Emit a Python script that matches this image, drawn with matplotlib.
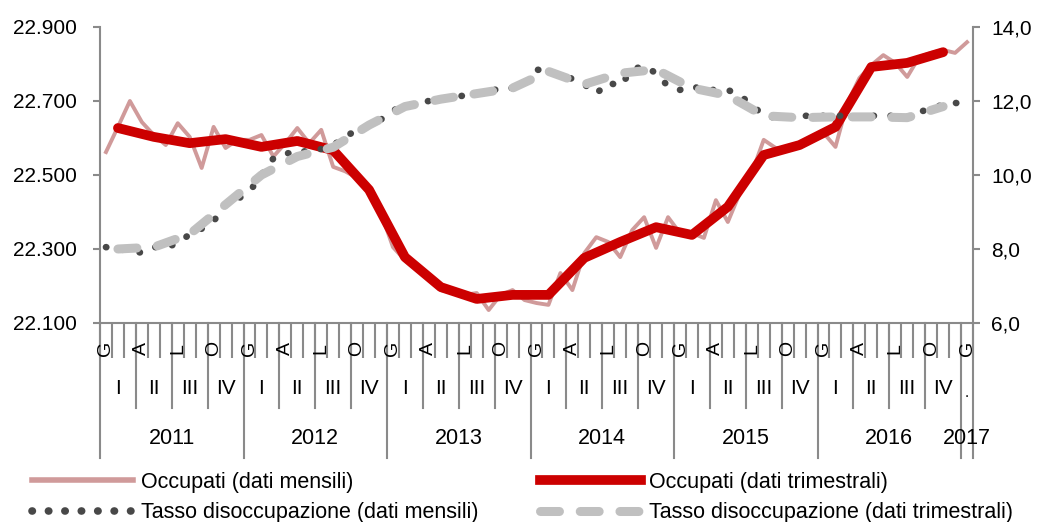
import numpy as np
import matplotlib
matplotlib.use('Agg')
import matplotlib.pyplot as plt
from matplotlib.lines import Line2D
from matplotlib.ticker import FixedLocator, FuncFormatter

plt.rcParams['font.family'] = ['Liberation Sans', 'DejaVu Sans']

# Occupati (migliaia), dati mensili gen 2011 - gen 2017
occupati_mensili = [
    22562, 22630, 22700, 22643, 22608, 22581, 22640, 22603, 22519, 22630, 22573, 22595,
    22595, 22608, 22550, 22586, 22627, 22586, 22622, 22522, 22510, 22492, 22460, 22397,
    22305, 22270, 22243, 22222, 22189, 22181, 22176, 22181, 22135, 22176, 22189, 22162,
    22154, 22149, 22235, 22189, 22289, 22332, 22319, 22278, 22351, 22386, 22303, 22386,
    22343, 22343, 22330, 22432, 22373, 22451, 22505, 22595, 22573, 22573, 22581, 22595,
    22614, 22576, 22695, 22762, 22797, 22824, 22803, 22765, 22819, 22830, 22838, 22830,
    22859,
]
# Occupati, dati trimestrali (I 2011 - IV 2016)
occupati_trimestrali = [
    22627, 22603, 22586, 22597,
    22576, 22592, 22567, 22460,
    22278, 22197, 22165, 22176,
    22176, 22276, 22319, 22359,
    22338, 22414, 22554, 22581,
    22630, 22792, 22803, 22832,
]
# Tasso di disoccupazione, dati mensili
disoccupazione_mensili = [
    8.05, 8.0, 7.95, 7.9, 8.05, 8.05, 8.15, 8.4, 8.55, 8.75, 9.2, 9.35,
    9.55, 10.0, 10.45, 10.6, 10.55, 10.7, 10.7, 10.8, 11.05, 11.2, 11.35, 11.5,
    11.75, 11.85, 11.95, 12.0, 12.05, 12.1, 12.15, 12.2, 12.25, 12.35, 12.35, 12.45,
    12.85, 12.8, 12.7, 12.6, 12.45, 12.2, 12.5, 12.4, 12.85, 12.95, 12.75, 12.4,
    12.3, 12.4, 12.3, 12.3, 12.3, 12.15, 11.9, 11.6, 11.55, 11.55, 11.6, 11.6,
    11.6, 11.6, 11.6, 11.55, 11.6, 11.6, 11.6, 11.55, 11.7, 11.8, 11.9, 11.95,
    11.9,
]
# Tasso di disoccupazione, dati trimestrali
disoccupazione_trimestrali = [
    8.0, 8.05, 8.4, 9.2,
    10.0, 10.5, 10.75, 11.35,
    11.85, 12.05, 12.2, 12.35,
    12.8, 12.45, 12.75, 12.85,
    12.35, 12.15, 11.6, 11.55,
    11.57, 11.57, 11.55, 11.85,
]

anni = ['2011', '2012', '2013', '2014', '2015', '2016', '2017']
trimestri = ['I', 'II', 'III', 'IV']
mesi = ['G', '', '', 'A', '', '', 'L', '', '', 'O', '', '']

PINK = '#D09A9A'
RED = '#CC0000'
LGRAY = '#C0C0C0'
DGRAY = '#484848'
AXIS = '#8A8A8A'
FS = 15

n = len(occupati_mensili)
xm = np.arange(n)
xq = np.arange(len(occupati_trimestrali)) * 3 + 1

fig = plt.figure(figsize=(10.4, 5.22), dpi=100)
ax = fig.add_axes([100 / 1040, 1 - 323 / 522, 873 / 1040, 296 / 522])
ax2 = ax.twinx()

ax.plot(xm, occupati_mensili, color=PINK, lw=2.8, zorder=2)
ax.plot(xq, occupati_trimestrali, color=RED, lw=7, solid_joinstyle='round',
        solid_capstyle='round', zorder=3)

ax2.plot(xm, disoccupazione_mensili, color=DGRAY, lw=4.8, dashes=(0.05, 2.5),
         dash_capstyle='round', zorder=2)
ax2.plot(xq, disoccupazione_trimestrali, color=LGRAY, lw=6.5, dashes=(2.1, 2.3),
         dash_capstyle='round', zorder=3)

ax.set_xlim(-0.5, n - 0.5)
ax.set_ylim(22100, 22900)
ax2.set_ylim(6, 14)
ax.yaxis.set_major_locator(FixedLocator(np.arange(22100, 22901, 200)))
ax2.yaxis.set_major_locator(FixedLocator(np.arange(6, 14.1, 2)))
ax.yaxis.set_major_formatter(FuncFormatter(lambda v, p: f'{v:,.0f}'.replace(',', '.')))
ax2.yaxis.set_major_formatter(FuncFormatter(lambda v, p: f'{v:.1f}'.replace('.', ',')))

for a in (ax, ax2):
    a.spines['top'].set_visible(False)
    for s in a.spines.values():
        s.set_color(AXIS)
        s.set_linewidth(1.5)
ax.spines['right'].set_visible(False)
ax2.spines['left'].set_visible(False)
ax2.spines['bottom'].set_visible(False)

ax.tick_params(axis='y', length=5, width=1.5, color=AXIS, labelsize=FS, pad=12)
ax2.tick_params(axis='y', length=5, width=1.5, color=AXIS, labelsize=FS, pad=8)

# month separators
ax.set_xticks(np.arange(-0.5, n, 1.0))
ax.set_xticklabels([])
ax.tick_params(axis='x', length=25, width=1.5, color=AXIS)

tr = ax.get_xaxis_transform()
for i in range(n):
    lab = mesi[i % 12]
    if lab:
        ax.text(i, -0.085, lab, transform=tr, rotation=90, ha='center', va='center',
                fontsize=FS - 1)

# quarter separators and labels
for q in range(n // 3):
    if q % 4:
        b = q * 3 - 0.5
        ax.plot([b, b], [0, -0.287], transform=tr, color=AXIS, lw=1.5, clip_on=False)
    ax.text(q * 3 + 1, -0.22, trimestri[q % 4], transform=tr, ha='center', va='center',
            fontsize=FS)
ax.text(n - 1, -0.235, '.', transform=tr, ha='center', va='center', fontsize=FS - 4)

# year separators and labels
for k, anno in enumerate(anni):
    start = k * 12 - 0.5
    end = min(start + 12, n - 0.5)
    ax.plot([start, start], [0, -0.456], transform=tr, color=AXIS, lw=1.5, clip_on=False)
    ax.text((start + end) / 2, -0.389, anno, transform=tr, ha='center', va='center',
            fontsize=FS + 0.5)
ax.plot([n - 0.5, n - 0.5], [0, -0.456], transform=tr, color=AXIS, lw=1.5, clip_on=False)

# legends
h_om = Line2D([], [], color=PINK, lw=4)
h_dm = Line2D([], [], color=DGRAY, lw=5.5, dashes=(0.05, 2.1), dash_capstyle='round')
h_ot = Line2D([], [], color=RED, lw=7)
h_dt = Line2D([], [], color=LGRAY, lw=6.5, dashes=(2.1, 2.3), dash_capstyle='round')

kw = dict(frameon=False, fontsize=FS + 0.5, handlelength=4.7, handletextpad=0.35,
          labelspacing=0.42, borderpad=0, borderaxespad=0, loc='upper left')
leg1 = fig.legend([h_om, h_dm], ['Occupati (dati mensili)',
                                 'Tasso disoccupazione (dati mensili)'],
                  bbox_to_anchor=(32 / 1040, 1 - 472 / 522), **kw)
leg2 = fig.legend([h_ot, h_dt], ['Occupati (dati trimestrali)',
                                 'Tasso disoccupazione (dati trimestrali)'],
                  bbox_to_anchor=(540 / 1040, 1 - 472 / 522), **kw)

fig.savefig('out.png', dpi=100, facecolor='white')
